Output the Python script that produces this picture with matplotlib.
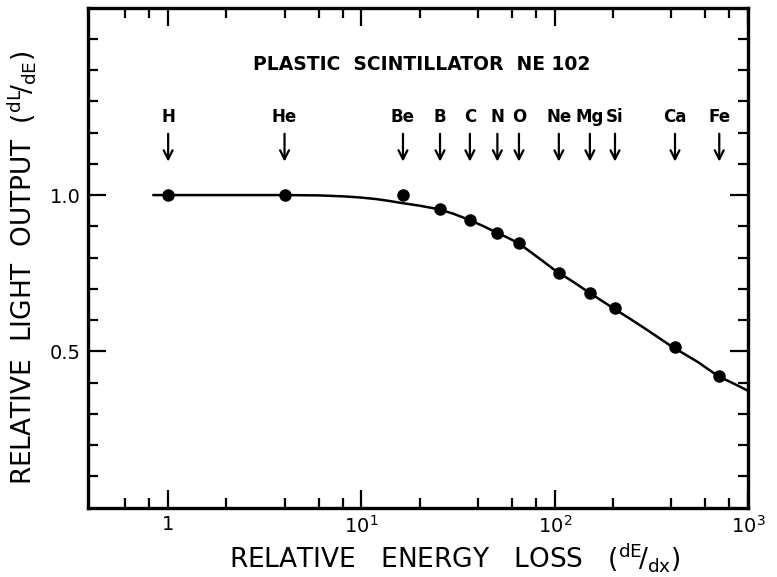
import matplotlib
matplotlib.use("Agg")
import matplotlib.pyplot as plt
from matplotlib.ticker import FixedLocator, NullFormatter

# Measured points (relative dE/dx, relative light output)
elements = ["H", "He", "Be", "B", "C", "N", "O", "Ne", "Mg", "Si", "Ca", "Fe"]
dedx = [1.0, 4.0, 16.4, 25.5, 36.4, 50.5, 65.3, 105, 152, 205, 419, 710]
light = [1.0, 1.0, 1.0, 0.957, 0.920, 0.879, 0.847, 0.751, 0.686, 0.638, 0.513, 0.420]

# Smooth curve drawn through the data
curve_x = [0.84, 2, 4, 6, 8, 10, 12, 14, 16, 20, 25, 30, 36, 43, 50, 57, 65,
           75, 88, 100, 125, 150, 175, 200, 250, 300, 400, 550, 700, 850, 1000]
curve_y = [1.0, 1.0, 1.0, 0.999, 0.996, 0.992, 0.987, 0.981, 0.975, 0.966,
           0.955, 0.940, 0.921, 0.900, 0.880, 0.864, 0.846, 0.818, 0.786,
           0.760, 0.722, 0.689, 0.662, 0.639, 0.601, 0.569, 0.517, 0.466,
           0.421, 0.396, 0.374]

title = "PLASTIC  SCINTILLATOR  NE 102"
xlabel = r"RELATIVE   ENERGY   LOSS   ($^{\rm dE}\!/_{\rm dx}$)"
ylabel = r"RELATIVE  LIGHT  OUTPUT  ($^{\rm dL}\!/_{\rm dE}$)"
xmajor = [1, 10, 100, 1000]
xmajor_labels = ["1", r"10$^1$", r"10$^2$", r"10$^3$"]
ymajor = [0.5, 1.0]
ymajor_labels = ["0.5", "1.0"]

plt.rcParams['font.family'] = ['DejaVu Sans']
plt.rcParams['mathtext.default'] = 'regular'

fig = plt.figure(figsize=(7.77, 5.77), dpi=100)
ax = fig.add_axes([0.1133, 0.1201, 0.8494, 0.8669])

ax.plot(curve_x, curve_y, color="black", lw=1.8, zorder=2)
ax.plot(dedx, light, "o", color="black", ms=8, zorder=3)

ax.set_xscale("log")
ax.set_xlim(0.385, 1000)
ax.set_ylim(0, 1.6)

# arrows and element labels
for el, x in zip(elements, dedx):
    ax.annotate("", xy=(x, 1.098), xytext=(x, 1.205),
                arrowprops=dict(arrowstyle="->", color="black", lw=1.6,
                                mutation_scale=16))
    ax.text(x, 1.25, el, ha="center", va="center", fontsize=12,
            fontweight="bold")

ax.text(20.5, 1.417, title, ha="center", va="center", fontsize=13.5,
        fontweight="bold")

# ticks
ax.xaxis.set_major_locator(FixedLocator(xmajor))
ax.set_xticklabels(xmajor_labels, fontsize=14)
minor_x = [0.6, 0.8, 2, 4, 6, 8, 20, 40, 60, 80, 200, 400, 600, 800]
ax.xaxis.set_minor_locator(FixedLocator(minor_x))
ax.xaxis.set_minor_formatter(NullFormatter())

ax.yaxis.set_major_locator(FixedLocator(ymajor))
ax.set_yticklabels(ymajor_labels, fontsize=14)
minor_y = [0.1, 0.2, 0.3, 0.4, 0.6, 0.7, 0.8, 0.9, 1.1, 1.2, 1.3, 1.4, 1.5]
ax.yaxis.set_minor_locator(FixedLocator(minor_y))

ax.tick_params(which="both", direction="in", top=True, right=True, width=1.6,
               colors="black")
ax.tick_params(which="major", length=13, pad=5)
ax.tick_params(which="minor", length=7)

for s in ax.spines.values():
    s.set_linewidth(2.4)

fig.text(0.585, 0.006, xlabel, ha="center", va="bottom", fontsize=19)
fig.text(0.006, 0.535, ylabel, ha="left", va="center", fontsize=19,
         rotation=90)

fig.savefig("out.png", dpi=100)
